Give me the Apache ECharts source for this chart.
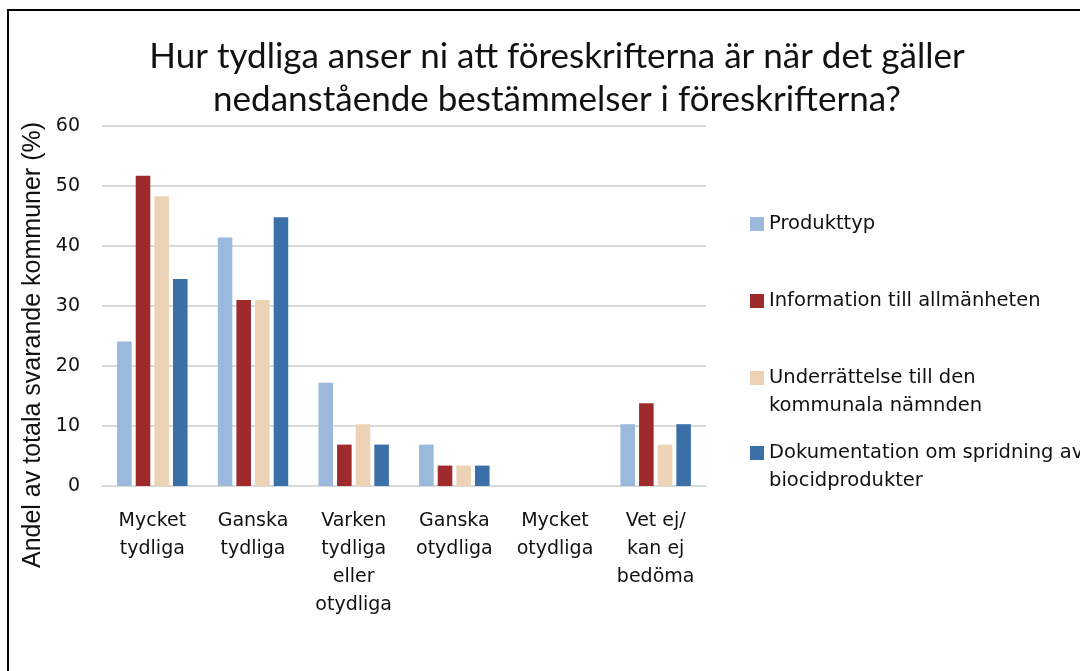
<!DOCTYPE html>
<html>
<head>
<meta charset="utf-8">
<script src="https://cdn.jsdelivr.net/npm/echarts@6/dist/echarts.min.js"></script>
<style>
  html, body { margin: 0; padding: 0; background: #fff; }
  #chart { width: 1080px; height: 671px; }
</style>
</head>
<body>
<div id="chart"></div>
<script>
const categories = ['Mycket\ntydliga', 'Ganska\ntydliga', 'Varken\ntydliga\neller\notydliga', 'Ganska\notydliga', 'Mycket\notydliga', 'Vet ej/\nkan ej\nbedöma'];
const produkttyp = [24.1, 41.4, 17.2, 6.9, 0, 10.3];
const information = [51.7, 31.0, 6.9, 3.4, 0, 13.8];
const underrattelse = [48.3, 31.0, 10.3, 3.4, 0, 6.9];
const dokumentation = [34.5, 44.8, 6.9, 3.4, 0, 10.3];
const seriesNames = ['Produkttyp', 'Information till allmänheten', 'Underrättelse till den kommunala nämnden', 'Dokumentation om spridning av biocidprodukter'];
const legendLabels = ['Produkttyp', 'Information till allmänheten', 'Underrättelse till den\nkommunala nämnden', 'Dokumentation om spridning av\nbiocidprodukter'];
const colors = ['#9BB9DC', '#9E2A2B', '#EDD3B5', '#3A6FA8'];

window.addEventListener('load', function () {
    renderChart();
});

function renderChart() {
    const chartDom = document.getElementById('chart');
    const myChart = echarts.init(chartDom);
    const values = [produkttyp, information, underrattelse, dokumentation];
    const legendTops = [210, 287, 336, 411];

    // one legend per entry; two-line labels get a blank first line so the icon sits on line one
    const legends = seriesNames.map((name, i) => ({
        orient: 'vertical',
        left: 750,
        top: legendTops[i],
        padding: 0,
        itemWidth: 14,
        itemHeight: 14,
        icon: 'rect',
        data: [name],
        formatter: () => legendLabels[i].includes('\n') ? '\n' + legendLabels[i] : legendLabels[i],
        textStyle: {
            fontFamily: 'DejaVu Sans',
            fontSize: 19.5,
            color: '#111',
            lineHeight: 28
        }
    }));

    const option = {
        animation: false,
        backgroundColor: '#fff',
        title: {
            text: 'Hur tydliga anser ni att föreskrifterna är när det gäller\nnedanstående bestämmelser i föreskrifterna?',
            left: 552,
            top: 30,
            textAlign: 'center',
            textStyle: { fontFamily: 'Lato', fontWeight: 'normal', fontSize: 35, lineHeight: 43, color: '#111' }
        },
        legend: legends,
        grid: { left: 102, right: 374, top: 126, bottom: 185 },
        xAxis: {
            type: 'category',
            data: categories,
            axisLine: { lineStyle: { color: '#D9D9D9', width: 2 } },
            axisTick: { show: false },
            axisLabel: { interval: 0, margin: 21, fontFamily: 'DejaVu Sans', fontSize: 19, lineHeight: 28, color: '#111' }
        },
        yAxis: {
            type: 'value',
            min: 0,
            max: 60,
            interval: 10,
            axisLine: { show: false },
            axisTick: { show: false },
            axisLabel: { margin: 22, fontFamily: 'DejaVu Sans', fontSize: 19, color: '#111' },
            splitLine: { lineStyle: { color: '#D9D9D9', width: 2 } }
        },
        graphic: [
            {
                type: 'rect',
                shape: { x: 8, y: 10, width: 1100, height: 700 },
                style: { fill: 'none', stroke: '#000', lineWidth: 2 },
                silent: true
            },
            {
                type: 'text',
                x: 33,
                y: 345,
                rotation: Math.PI / 2,
                style: {
                    text: 'Andel av totala svarande kommuner (%)',
                    fontFamily: 'Liberation Sans',
                    fontSize: 25,
                    fill: '#111',
                    align: 'center',
                    verticalAlign: 'middle'
                }
            }
        ],
        series: seriesNames.map((name, i) => ({
            name: name,
            type: 'bar',
            data: values[i],
            itemStyle: { color: colors[i] },
            barGap: '28%',
            barCategoryGap: '30%'
        }))
    };

    myChart.setOption(option);
}
</script>
</body>
</html>
